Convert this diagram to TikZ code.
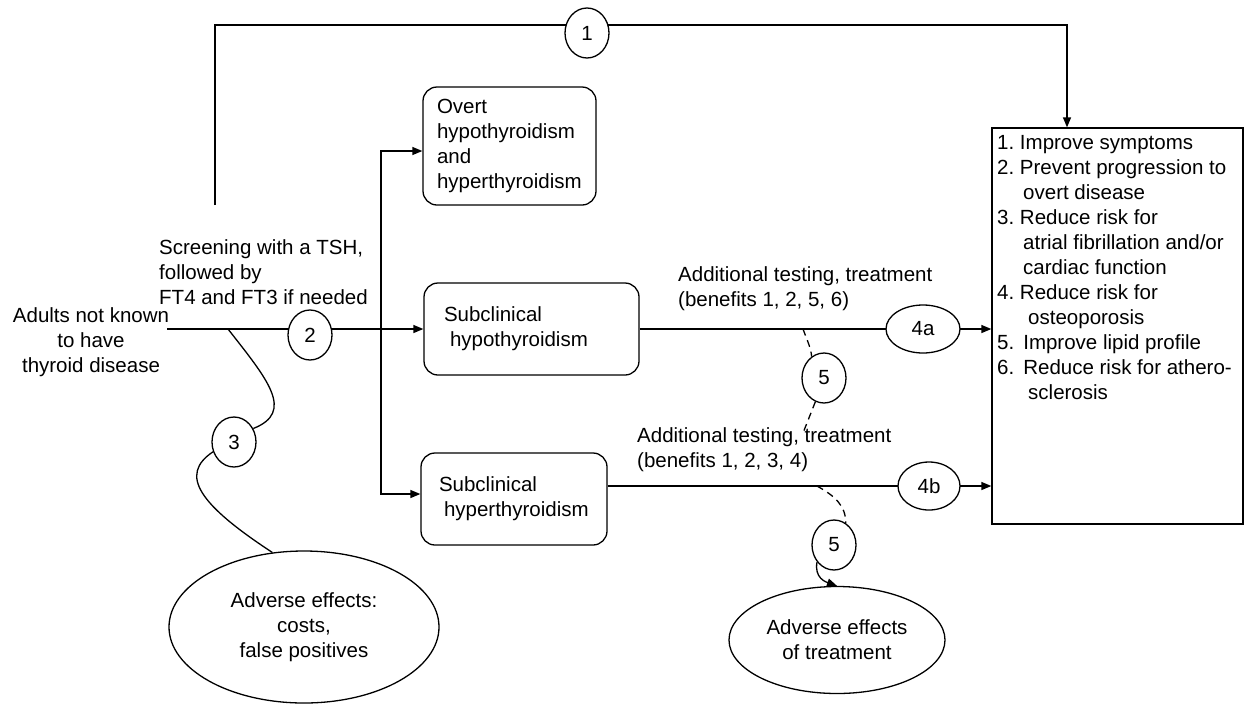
\documentclass[tikz,border=0pt]{standalone}
\usepackage{fontspec}
\setmainfont{Liberation Sans}
\usetikzlibrary{shapes.geometric,arrows.meta,backgrounds}
\begin{document}
\frenchspacing
\hyphenpenalty=10000
\exhyphenpenalty=10000
\begin{tikzpicture}[x=1pt,y=-1pt,
  every node/.style={font=\fontsize{20.5}{25}\selectfont, inner sep=0pt},
  ln/.style={line width=1.3pt, draw=black},
  tip/.tip={Triangle[length=10pt,width=8pt]},
  arr/.style={ln, -tip},
  dsh/.style={ln, dash pattern=on 7pt off 5pt},
  rbox/.style={draw, line width=1.3pt, rounded corners=14pt, fill=white, align=left, inner xsep=20pt, inner ysep=0pt},
  oval/.style={ellipse, draw, line width=1.3pt, fill=white, inner sep=0pt},
  num/.style={oval, minimum width=44pt, minimum height=50pt},
  txt/.style={align=left, anchor=north west}]

\useasboundingbox (0,0) rectangle (1249,705);

% boxes
\node[rbox, text width=145pt, inner xsep=14pt, minimum height=118pt] (overt) at (509.5,146) {Overt\\hypothyroidism\\and\\hyperthyroidism};
\node[rbox, text width=175pt, minimum height=92pt] (hypo) at (531.5,329) {Subclinical\\\hspace*{6pt}hypothyroidism};
\node[rbox, text width=150pt, inner xsep=18pt, minimum height=92pt] (hyper) at (514,499) {Subclinical\\\hspace*{5pt}hyperthyroidism};
\node[draw, line width=1.3pt, fill=white, minimum width=251pt, minimum height=396pt] (benefits) at (1117.5,326) {};
\node[txt] (benefitstext) at (997,135) {1. Improve symptoms\\2. Prevent progression to\\\hspace*{26pt}overt disease\\3. Reduce risk for\\\hspace*{26pt}atrial fibrillation and/or\\\hspace*{26pt}cardiac function\\4. Reduce risk for\\\hspace*{31pt}osteoporosis\\5.\hspace*{9pt}Improve lipid profile\\6.\hspace*{9pt}Reduce risk for athero-\\\hspace*{31pt}sclerosis};

% numbered ovals
\node[num] (c1) at (587,33) {1};
\node[num] (c2) at (310,335) {2};
\node[num] (c3) at (234,442) {3};
\node[num] (c5a) at (824,378) {5};
\node[num] (c5b) at (834,545) {5};
\node[oval, minimum width=74pt, minimum height=48pt] (b4a) at (923,329) {4a};
\node[oval, minimum width=62pt, minimum height=48pt] (b4b) at (929,486) {4b};

% adverse effects
\node[oval, minimum width=270pt, minimum height=152pt, align=center] (adv1) at (304,627) {Adverse effects:\\costs,\\false positives};
\node[oval, minimum width=216pt, minimum height=107pt, align=center] (adv2) at (837,640) {Adverse effects\\of treatment};

% free texts
\node[align=center, anchor=north] (adults) at (91,307) {Adults not known\\to have\\thyroid disease};
\node[txt] (screen) at (159,239) {Screening with a TSH,\\followed by\\FT4 and FT3 if needed};
\node[txt] (add1) at (678,266) {Additional testing, treatment\\(benefits 1, 2, 5, 6)};
\node[txt] (add2) at (637,427) {Additional testing, treatment\\(benefits 1, 2, 3, 4)};

% coordinates
\coordinate (mstart) at (167,329);
\coordinate (topstart) at (215,205);
\coordinate (topright) at (1067,25);
\coordinate (bt) at (381,151);
\coordinate (bb) at (381,494);
\coordinate (d3) at (228,329);
\coordinate (d5a) at (803,329);
\coordinate (d5b) at (803,433);
\coordinate (d5c) at (817,486);

\begin{pgfonlayer}{background}
\draw[arr] (topstart) |- (topright) -- (topright |- benefits.north);
\draw[arr] (mstart) -- (hypo.west |- mstart);
\draw[ln, tip-tip] (overt.west |- bt) -- (bt) -- (bb) -- (hyper.west |- bb);
\draw[arr] (hypo.east) -- (benefits.west |- hypo.east);
\draw[arr] (hyper.east |- d5c) -- (benefits.west |- d5c);
\draw[ln] (d3) .. controls (268,380) and (295,412) .. (c3.35);
\draw[ln] (c3.205) .. controls (178,475) and (200,505) .. (adv1.113);
\draw[dsh] (d5a) .. controls (807,340) and (811,348) .. (c5a.120);
\draw[dsh] (c5a.250) -- (d5b);
\draw[dsh] (d5c) .. controls (835,496) and (846,506) .. (c5b.62);
\draw[arr] (c5b.225) .. controls (814,578) and (826,582) .. (adv2.north);
\end{pgfonlayer}
\end{tikzpicture}
\end{document}
